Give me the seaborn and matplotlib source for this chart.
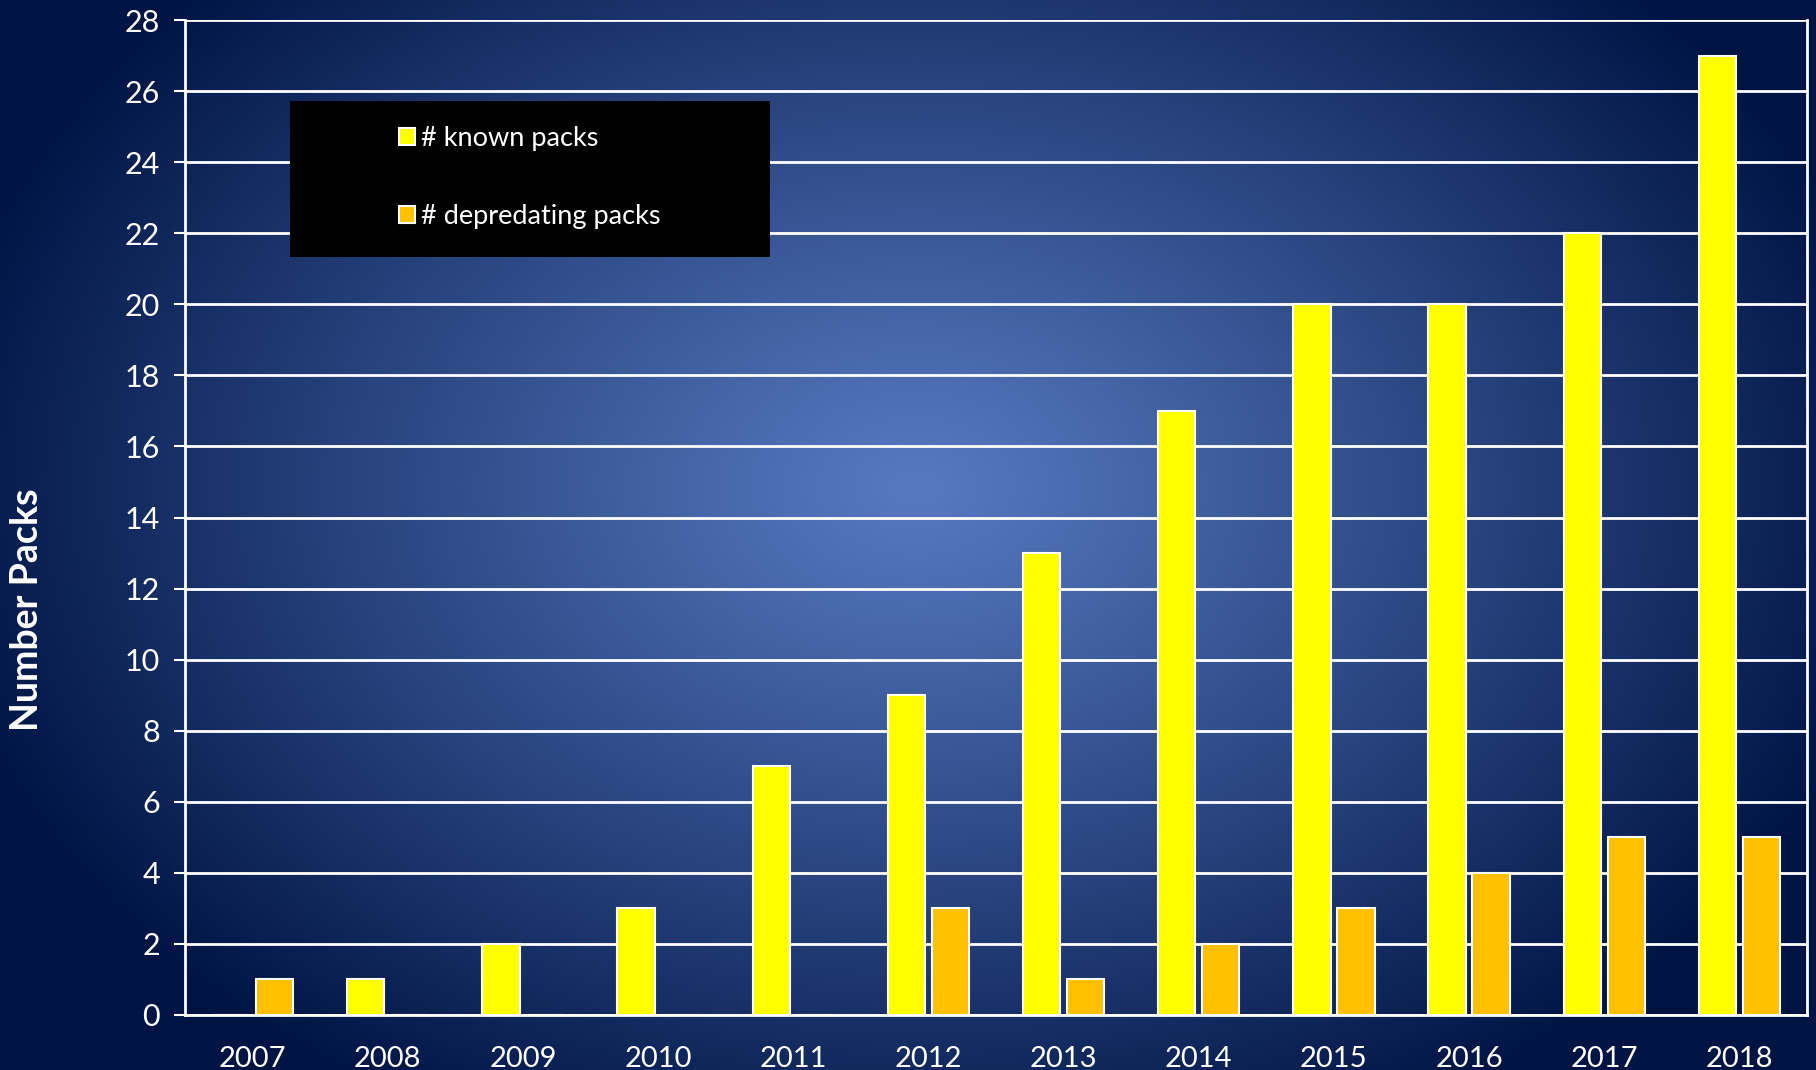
import numpy as np
import pandas as pd
import matplotlib
matplotlib.use('Agg')
import matplotlib.pyplot as plt
import seaborn as sns
from matplotlib.patches import Rectangle, Patch

# Chart data
years = ['2007', '2008', '2009', '2010', '2011', '2012',
         '2013', '2014', '2015', '2016', '2017', '2018']
known_packs = [0, 1, 2, 3, 7, 9, 13, 17, 20, 20, 22, 27]
depredating_packs = [1, 0, 0, 0, 0, 3, 1, 2, 3, 4, 5, 5]
series_names = ['# known packs', '# depredating packs']
series_colors = ['#FFFF00', '#FFC000']

df = pd.DataFrame({
    'year': years * 2,
    'packs': known_packs + depredating_packs,
    'series': [series_names[0]] * len(years) + [series_names[1]] * len(years),
})

sns.set_theme(style='white')
plt.rcParams['font.family'] = ['Lato', 'DejaVu Sans']

W, H = 1816, 1070
fig = plt.figure(figsize=(W / 100, H / 100), dpi=100)

# Radial gradient background (slide style)
bg = fig.add_axes([0, 0, 1, 1], zorder=-10)
yy, xx = np.mgrid[0:H, 0:W]
r = np.sqrt(((xx - 915) / 1000.0) ** 2 + ((yy - 486) / 720.0) ** 2)
r = np.clip(r, 0, 1)
inner = np.array([86, 121, 192]) / 255.0
outer = np.array([0, 20, 68]) / 255.0
t = r[..., None] ** 1.1
img = inner * (1 - t) + outer * t
bg.imshow(img, aspect='auto', extent=[0, 1, 0, 1], origin='upper')
bg.axis('off')

ax = fig.add_axes([185 / W, 1 - 1015 / H, 1622 / W, 995 / H])
ax.set_facecolor('none')

sns.barplot(data=df, x='year', y='packs', hue='series', palette=series_colors,
            saturation=1, width=0.65, gap=0.15, edgecolor='white', linewidth=1.5,
            legend=False, ax=ax, zorder=3)

ax.set_ylim(0, 28)
ax.set_yticks(np.arange(0, 29, 2))
ax.set_xlim(-0.5, len(years) - 0.5)
ax.set_xticks(np.arange(-0.5, len(years), 1), minor=True)
ax.tick_params(axis='x', which='major', length=0, pad=22, labelsize=21, labelcolor='white')
ax.tick_params(axis='x', which='minor', length=8, width=1.5, color='white', direction='out')
ax.tick_params(axis='y', length=8, width=1.5, color='white', direction='out', pad=10,
               labelsize=22, labelcolor='white', left=True)
ax.grid(axis='y', color='white', linewidth=2, zorder=1)
ax.set_axisbelow(True)
for side in ['left', 'bottom', 'right']:
    ax.spines[side].set_visible(True)
    ax.spines[side].set_color('white')
    ax.spines[side].set_linewidth(2)
ax.spines['top'].set_visible(False)
ax.set_xlabel('')
ax.set_ylabel('')

fig.text(27 / W, 1 - 610 / H, 'Number Packs', rotation=90, ha='center', va='center',
         color='white', fontsize=27, fontweight='bold')

# Legend on black box
fig.patches.append(Rectangle((290 / W, 1 - 257 / H), 480 / W, 156 / H,
                             transform=fig.transFigure, facecolor='black',
                             edgecolor='none', zorder=5))
handles = [Patch(facecolor=c, edgecolor='white', linewidth=1.5) for c in series_colors]
leg = fig.legend(handles, series_names, loc='upper left',
                 bbox_to_anchor=(399 / W, 1 - 126 / H), frameon=False,
                 fontsize=19.5, labelcolor='white', handlelength=0.6, handleheight=0.6,
                 handletextpad=0.2, labelspacing=1.95, borderaxespad=0, borderpad=0)
leg.set_zorder(6)

fig.savefig('out.png', dpi=100)
